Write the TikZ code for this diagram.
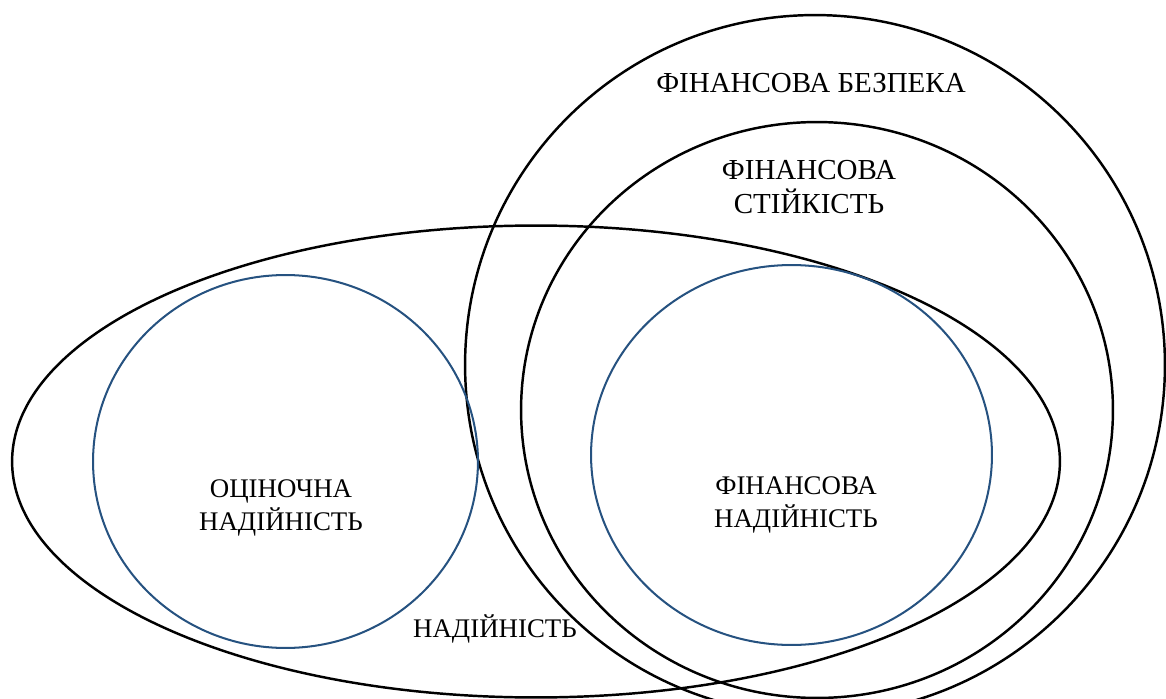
\documentclass[tikz,border=0pt]{standalone}
\usepackage{fontspec}
\setmainfont{Liberation Serif}
\usepackage{tikz}
\usetikzlibrary{shapes.geometric,positioning}
\definecolor{ringblue}{RGB}{38,82,128}

\begin{document}
\begin{tikzpicture}[x=0.02cm, y=-0.02cm,
  font=\fontsize{15.3}{18.6}\selectfont,
  ring/.style={draw, ellipse, inner sep=0pt, line width=1.4pt},
  subring/.style={ring, draw=ringblue, line width=1.15pt},
  lbl/.style={align=center, inner sep=0pt},
  biglbl/.style={lbl, font=\fontsize{16.5}{19.5}\selectfont}]
  \useasboundingbox (0,0) rectangle (1166,699);
  % outer sets
  \node[ring, minimum width=14cm, minimum height=14cm] (bezp) at (815,365) {};
  \node[ring, minimum width=11.84cm, minimum height=11.52cm] (stiik) at (817,410) {};
  \node[ring, minimum width=20.96cm, minimum height=9.44cm] (nad) at (536,461.5) {};
  % inner sets
  \node[subring, minimum width=7.7cm, minimum height=7.46cm] (ocin) at (285.5,461.5) {};
  \node[subring, minimum width=8.02cm, minimum height=7.6cm] (finnad) at (791.5,455) {};
  % labels
  \node[biglbl] (bezp-t) at (811,83) {ФІНАНСОВА БЕЗПЕКА};
  \node[biglbl] (stiik-t) at (809,187) {ФІНАНСОВА\\ СТІЙКІСТЬ};
  \node[lbl] (ocin-t) at (281,508) {ОЦІНОЧНА\\ НАДІЙНІСТЬ};
  \node[lbl] (finnad-t) at (796,505) {ФІНАНСОВА\\ НАДІЙНІСТЬ};
  \node[lbl] (nad-t) at (495,629) {НАДІЙНІСТЬ};
\end{tikzpicture}
\end{document}
